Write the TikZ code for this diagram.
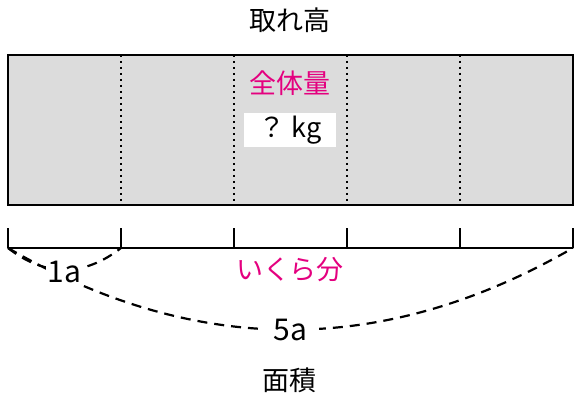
\documentclass[tikz,border=0pt]{standalone}
\usepackage{fontspec}
\setmainfont{Noto Sans CJK JP}
\usepackage{tikz}
\usetikzlibrary{positioning,calc}
\definecolor{boxgray}{HTML}{DCDCDC}
\definecolor{magentaj}{HTML}{E4007F}
\tikzset{
    every picture/.style={line width=0.75pt},
    lbl/.style={font=\fontsize{13.5}{16}\selectfont,inner sep=1pt},
    redlbl/.style={lbl,text=magentaj},
    unitlbl/.style={font=\fontsize{15}{18}\selectfont,inner sep=1pt,fill=white},
    brace/.style={dash pattern=on 5pt off 3.5pt,line width=1.1pt},
    tick/.style={line width=0.75pt}
}
\begin{document}
\begin{tikzpicture}[x=0.5pt,y=-0.5pt]
    \useasboundingbox (0,0) rectangle (575,399);

    % total block
    \draw[fill=boxgray] (8,55) rectangle (573,205);
    \foreach \i in {1,...,4}
        \draw[dotted,line width=1pt] ({8+113*\i},55) -- ({8+113*\i},205);

    % ruler and ticks
    \foreach \i in {0,...,5} {
        \coordinate (t\i) at ({8+113*\i},248);
        \draw[tick] (t\i) -- ++(0,-20);
    }
    \draw[tick] (t0) -- (t5);

    % labels
    \node[lbl] (top) at (290,20) {取れ高};
    \node[redlbl] (whole) at (290,83) {全体量};
    \node[lbl,fill=white,minimum width=46pt,minimum height=17pt] (qty) at (290,130) {？ kg};
    \node[redlbl] (part) at (290,270) {いくら分};
    \node[lbl] (area) at (290,380) {面積};

    % dashed braces
    \draw[brace] (t0) .. controls (196,357) and (384,357) .. (t5)
        node[unitlbl,pos=0.5,inner xsep=6pt] (five) {5a};
    \draw[brace] (t0) .. controls (45,277) and (84,277) .. (t1)
        node[unitlbl,pos=0.5,yshift=-1pt] (one) {1a};
\end{tikzpicture}
\end{document}
